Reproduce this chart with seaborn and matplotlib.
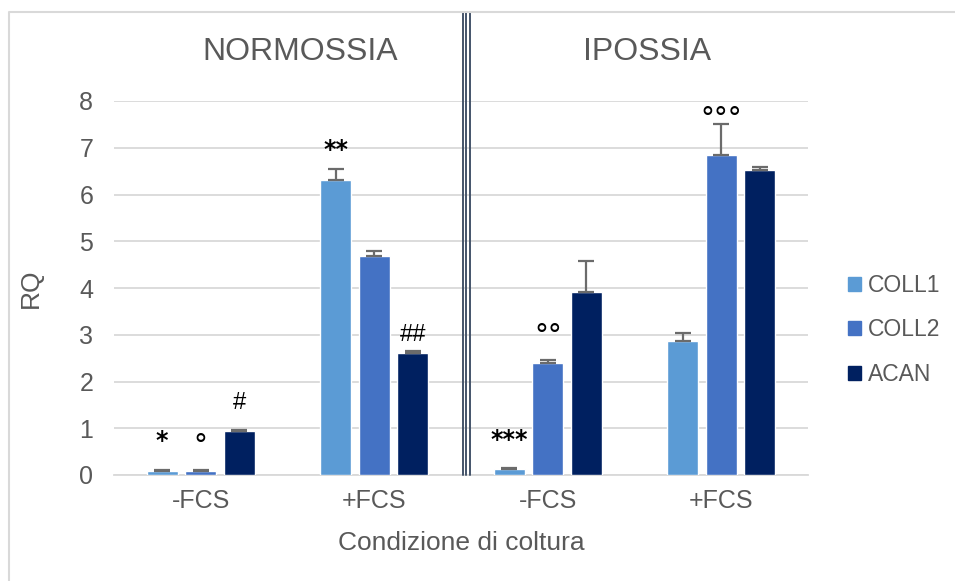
import numpy as np
import pandas as pd
import matplotlib
matplotlib.use("Agg")
import matplotlib.pyplot as plt
import seaborn as sns
from matplotlib.lines import Line2D
from matplotlib.patches import Rectangle

# Expression data (RQ) per culture condition
conditions = ["NORMOSSIA -FCS", "NORMOSSIA +FCS", "IPOSSIA -FCS", "IPOSSIA +FCS"]
tick_labels = ["-FCS", "+FCS", "-FCS", "+FCS"]
genes = ["COLL1", "COLL2", "ACAN"]
coll1 = [0.09, 6.30, 0.12, 2.87]
coll2 = [0.09, 4.68, 2.40, 6.84]
acan = [0.94, 2.62, 3.92, 6.52]
coll1_err = [0.02, 0.24, 0.03, 0.16]
coll2_err = [0.02, 0.12, 0.05, 0.67]
acan_err = [0.03, 0.04, 0.66, 0.07]

# Significance marks: (condition index, gene, symbol)
marks = [
    (0, "COLL1", "*"), (0, "COLL2", "°"), (0, "ACAN", "#"),
    (1, "COLL1", "**"), (1, "ACAN", "##"),
    (2, "COLL1", "***"), (2, "COLL2", "°°"),
    (3, "COLL2", "°°°"),
]
mark_gap = [0.62, 0.52, 0.58, 0.42, 0.33, 0.60, 0.52, 0.10]

group_titles = ["NORMOSSIA", "IPOSSIA"]

palette = {"COLL1": "#5B9BD5", "COLL2": "#4472C4", "ACAN": "#002060"}
text_grey = "#595959"

df = pd.DataFrame({
    "Condizione": np.tile(conditions, 3),
    "Gene": np.repeat(genes, 4),
    "RQ": coll1 + coll2 + acan,
    "err": coll1_err + coll2_err + acan_err,
})

sns.set_style("white")
plt.rcParams["font.family"] = ["Liberation Sans", "DejaVu Sans"]

W, H = 955, 581
fig = plt.figure(figsize=(W / 100, H / 100), dpi=100)
ax = fig.add_axes([114 / W, (H - 475) / H, 694 / W, 374 / H])

sns.barplot(data=df, x="Condizione", y="RQ", hue="Gene", order=conditions,
            hue_order=genes, palette=palette, width=0.667, gap=0.2,
            errorbar=None, saturation=1, ax=ax, legend=True, zorder=3)

# Upper error bars and significance marks, placed on the drawn bars
bars = [p for p in ax.patches if isinstance(p, Rectangle) and p.get_width() > 0][:12]
tops = {}
for gi, g in enumerate(genes):
    sub = df[df["Gene"] == g].reset_index(drop=True)
    for ci in range(4):
        p = bars[gi * 4 + ci]
        xc = p.get_x() + p.get_width() / 2
        v, e = sub.loc[ci, "RQ"], sub.loc[ci, "err"]
        ax.errorbar(xc, v, yerr=[[0], [e]], fmt="none", ecolor="#6b6b6b",
                    elinewidth=1.6, capsize=6, capthick=1.6, zorder=4)
        tops[(ci, g)] = (xc, v + e)

for (ci, g, sym), gap in zip(marks, mark_gap):
    xc, top = tops[(ci, g)]
    if "*" in sym:
        kw = dict(fontsize=17, fontweight="bold", family="DejaVu Sans")
    elif "#" in sym:
        kw = dict(fontsize=17, family="Liberation Sans")
    else:
        kw = dict(fontsize=20, family="DejaVu Sans")
    ax.text(xc, top + gap, sym, ha="center", va="center", color="black",
            zorder=5, **kw)

ax.set_ylim(0, 8)
ax.set_xlim(-0.5, 3.5)
ax.set_yticks(range(0, 9))
ax.yaxis.grid(True, color="#D9D9D9", linewidth=1.3, zorder=0)
ax.set_axisbelow(True)
for s in ["top", "right", "left"]:
    ax.spines[s].set_visible(False)
ax.spines["bottom"].set_color("#D9D9D9")
ax.spines["bottom"].set_linewidth(1.3)
ax.tick_params(axis="both", length=0, labelsize=18, colors=text_grey)
ax.tick_params(axis="y", pad=15)
ax.tick_params(axis="x", pad=10)
ax.set_xticks(range(4))
ax.set_xticklabels(tick_labels)
ax.set_xlabel("Condizione di coltura", fontsize=19, color=text_grey, labelpad=13)
ax.set_ylabel("RQ", fontsize=19, color=text_grey, labelpad=26)

# Legend on the right
handles = [Rectangle((0, 0), 1, 1, color=palette[g]) for g in genes]
ax.legend(handles, genes, loc="center left", bbox_to_anchor=(848 / W, (H - 330) / H),
          bbox_transform=fig.transFigure, frameon=False, fontsize=16.5,
          labelcolor=text_grey, handlelength=0.55, handleheight=0.55,
          handletextpad=0.3, labelspacing=0.95, borderpad=0, borderaxespad=0)

# Group headers
ax.text(0.575, 9.05, group_titles[0], ha="center", va="center", fontsize=23,
        color=text_grey, clip_on=False)
ax.text(2.575, 9.05, group_titles[1], ha="center", va="center", fontsize=23,
        color=text_grey, clip_on=False)

# Triple divider between the two groups
for xp in (462.5, 466.0, 469.5):
    fig.add_artist(Line2D([xp / W, xp / W], [(H - 475) / H, (H - 11.5) / H],
                          color="#44546A", linewidth=1.4, transform=fig.transFigure))

# Chart frame
fig.add_artist(Line2D([8.5 / W, 8.5 / W, 1.0], [0, (H - 11.5) / H, (H - 11.5) / H],
                      color="#D9D9D9", linewidth=1.5, transform=fig.transFigure))

fig.savefig("out.png", dpi=100, facecolor="white")
